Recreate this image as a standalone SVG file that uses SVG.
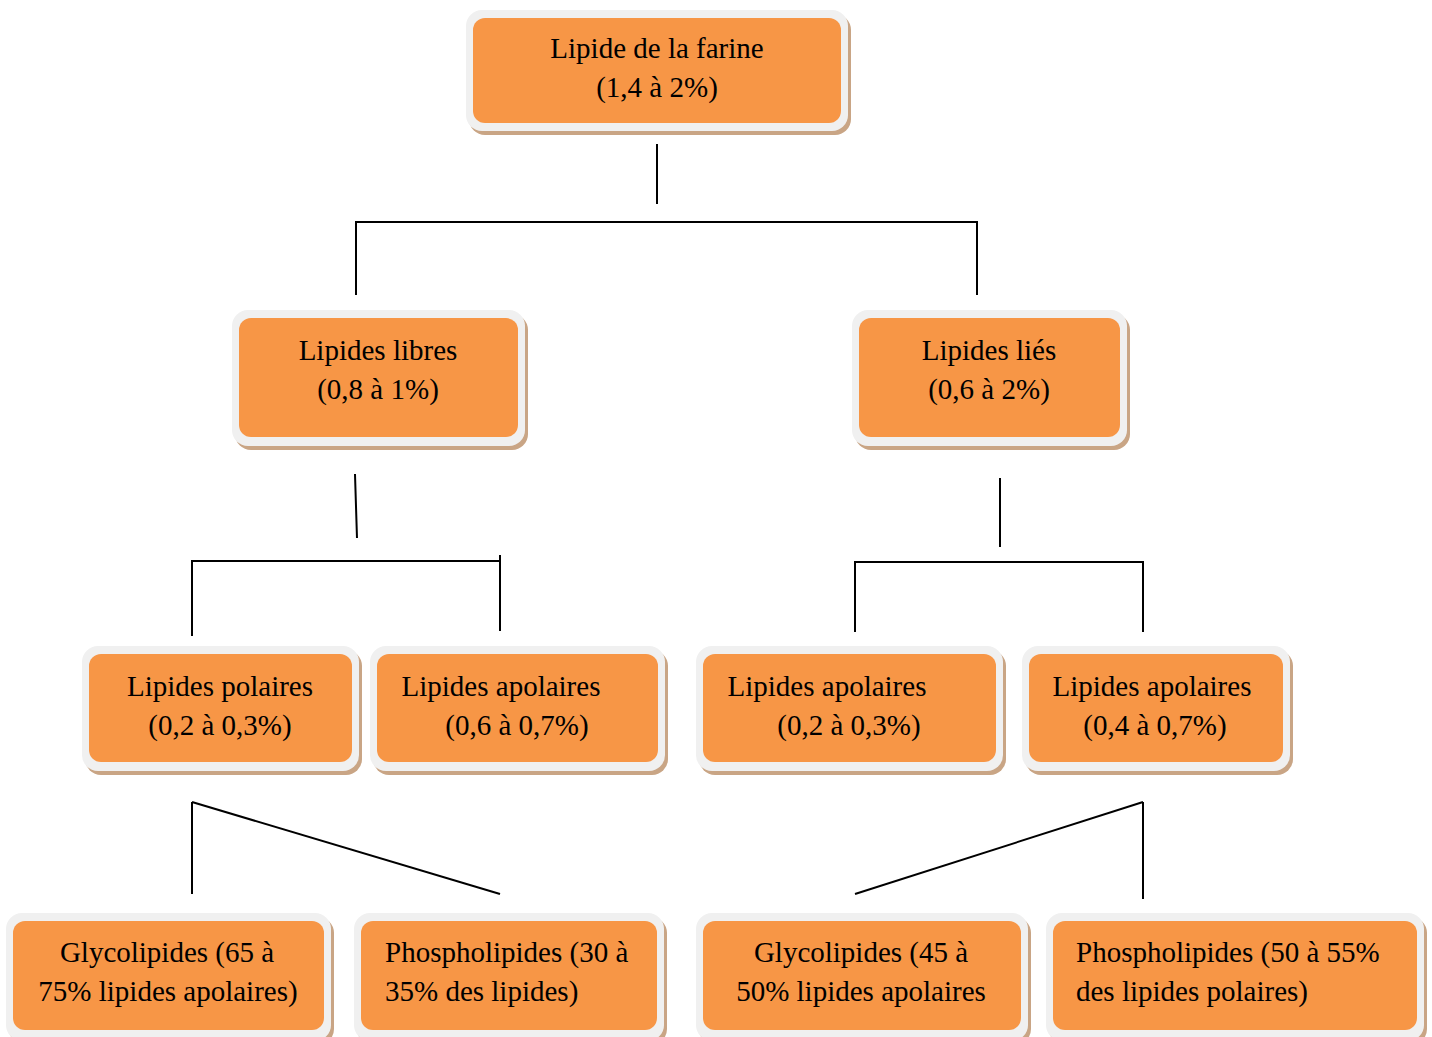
<svg xmlns="http://www.w3.org/2000/svg" width="1432" height="1037" viewBox="0 0 1432 1037">
<style>
.sh{fill:#c9a585}
.fr{fill:#f0f0f0}
.in{fill:#f79646}
text{font-family:"Liberation Serif","Times New Roman",serif;font-size:29px;fill:#000}
.c{text-anchor:middle}
.ln{stroke:#000;stroke-width:2;fill:none}
</style>
<rect width="1432" height="1037" fill="#fff"/>
<g id="connectors">
<line class="ln" x1="657" y1="144" x2="657" y2="204"/>
<polyline class="ln" points="356,295 356,222 977,222 977,295"/>
<line class="ln" x1="355" y1="474" x2="357" y2="538"/>
<polyline class="ln" points="192,636 192,561 500,561"/>
<line class="ln" x1="500" y1="555" x2="500" y2="631"/>
<line class="ln" x1="1000" y1="478" x2="1000" y2="547"/>
<polyline class="ln" points="855,632 855,562 1143,562 1143,632"/>
<line class="ln" x1="192" y1="802" x2="192" y2="894"/>
<line class="ln" x1="192" y1="802" x2="500" y2="894"/>
<line class="ln" x1="1143" y1="802" x2="1143" y2="899"/>
<line class="ln" x1="1143" y1="802" x2="855" y2="894"/>
</g>
<g id="n-farine">
<rect class="sh" x="469" y="14" width="382" height="121" rx="16"/>
<rect class="fr" x="466" y="10" width="382" height="121" rx="16"/>
<rect class="in" x="473" y="18" width="368" height="105" rx="12"/>
<text class="c" x="657" y="58">Lipide de la farine</text>
<text class="c" x="657" y="97">(1,4 à 2%)</text>
</g>
<g id="n-libres">
<rect class="sh" x="235" y="314" width="293" height="136" rx="16"/>
<rect class="fr" x="232" y="310" width="293" height="136" rx="16"/>
<rect class="in" x="239" y="318" width="279" height="119" rx="12"/>
<text class="c" x="378" y="360">Lipides libres</text>
<text class="c" x="378" y="399">(0,8 à 1%)</text>
</g>
<g id="n-lies">
<rect class="sh" x="855" y="314" width="275" height="136" rx="16"/>
<rect class="fr" x="852" y="310" width="275" height="136" rx="16"/>
<rect class="in" x="859" y="318" width="261" height="119" rx="12"/>
<text class="c" x="989" y="360">Lipides liés</text>
<text class="c" x="989" y="399">(0,6 à 2%)</text>
</g>
<g id="n-polaires">
<rect class="sh" x="85" y="650" width="277" height="125" rx="16"/>
<rect class="fr" x="82" y="646" width="277" height="125" rx="16"/>
<rect class="in" x="89" y="654" width="263" height="108" rx="12"/>
<text class="c" x="220" y="696">Lipides polaires</text>
<text class="c" x="220" y="735">(0,2 à 0,3%)</text>
</g>
<g id="n-apolaires1">
<rect class="sh" x="373" y="650" width="295" height="125" rx="16"/>
<rect class="fr" x="370" y="646" width="295" height="125" rx="16"/>
<rect class="in" x="377" y="654" width="281" height="108" rx="12"/>
<text class="c" x="501" y="696">Lipides apolaires</text>
<text class="c" x="517" y="735">(0,6 à 0,7%)</text>
</g>
<g id="n-apolaires2">
<rect class="sh" x="699" y="650" width="307" height="125" rx="16"/>
<rect class="fr" x="696" y="646" width="307" height="125" rx="16"/>
<rect class="in" x="703" y="654" width="293" height="108" rx="12"/>
<text class="c" x="827" y="696">Lipides apolaires</text>
<text class="c" x="849" y="735">(0,2 à 0,3%)</text>
</g>
<g id="n-apolaires3">
<rect class="sh" x="1025" y="650" width="268" height="125" rx="16"/>
<rect class="fr" x="1022" y="646" width="268" height="125" rx="16"/>
<rect class="in" x="1029" y="654" width="254" height="108" rx="12"/>
<text class="c" x="1152" y="696">Lipides apolaires</text>
<text class="c" x="1155" y="735">(0,4 à 0,7%)</text>
</g>
<g id="n-glyco1">
<rect class="sh" x="9" y="917" width="325" height="128" rx="16"/>
<rect class="fr" x="6" y="913" width="325" height="128" rx="16"/>
<rect class="in" x="13" y="921" width="311" height="109" rx="12"/>
<text class="c" x="167" y="962">Glycolipides (65 à</text>
<text class="c" x="168" y="1001">75% lipides apolaires)</text>
</g>
<g id="n-phospho1">
<rect class="sh" x="357" y="917" width="310" height="128" rx="16"/>
<rect class="fr" x="354" y="913" width="310" height="128" rx="16"/>
<rect class="in" x="361" y="921" width="296" height="109" rx="12"/>
<text x="385" y="962">Phospholipides (30 à</text>
<text x="385" y="1001">35% des lipides)</text>
</g>
<g id="n-glyco2">
<rect class="sh" x="699" y="917" width="332" height="128" rx="16"/>
<rect class="fr" x="696" y="913" width="332" height="128" rx="16"/>
<rect class="in" x="703" y="921" width="318" height="109" rx="12"/>
<text class="c" x="861" y="962">Glycolipides (45 à</text>
<text class="c" x="861" y="1001">50% lipides apolaires</text>
</g>
<g id="n-phospho2">
<rect class="sh" x="1049" y="917" width="378" height="128" rx="16"/>
<rect class="fr" x="1046" y="913" width="378" height="128" rx="16"/>
<rect class="in" x="1053" y="921" width="364" height="109" rx="12"/>
<text x="1076" y="962">Phospholipides (50 à 55%</text>
<text x="1076" y="1001">des lipides polaires)</text>
</g>
</svg>
